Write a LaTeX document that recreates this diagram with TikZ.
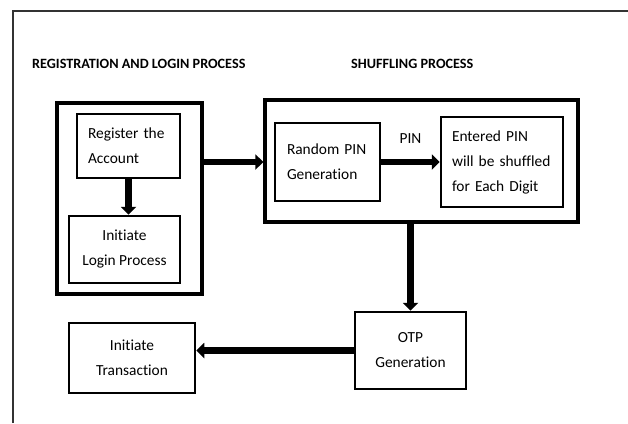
\documentclass[tikz,border=0pt]{standalone}
\usepackage{fontspec}
\setmainfont{Carlito}[Ligatures=NoCommon]
\usetikzlibrary{arrows.meta}

\begin{document}
\begin{tikzpicture}[x=1pt,y=-1pt,
  box/.style={draw,line width=2.5pt,inner sep=0pt,
    font=\fontsize{15.4}{25}\selectfont},
  group/.style={draw,line width=3.2pt,inner sep=0pt},
  title/.style={anchor=west,inner sep=0pt,
    font=\fontsize{14.2}{17}\selectfont\bfseries},
  fat/.style={line width=6.5pt,-{Triangle[length=8pt,width=15pt]}}]
  \useasboundingbox (0,0) rectangle (628,423);

  % page frame
  \draw[line width=1.5pt,black!80] (13,423) -- (13,11) -- (628,11);

  \node[title] (regtitle) at (32,64) {REGISTRATION AND LOGIN PROCESS};
  \node[title] (shuftitle) at (351,64) {SHUFFLING PROCESS};

  % registration / login
  \node[group,minimum width=145pt,minimum height=191pt] (reggroup) at (129.5,198.5) {};
  \node[box,minimum width=103pt,minimum height=64pt,text width=81pt,align=left]
    (reg) at (128.5,146) {Register the\\Account};
  \node[box,minimum width=111pt,minimum height=67pt,align=center]
    (login) at (124.5,249.5) {Initiate\\Login Process};

  % shuffling
  \node[group,minimum width=313pt,minimum height=122pt] (shufgroup) at (421.5,161) {};
  \node[box,minimum width=105pt,minimum height=78pt,text width=81pt,align=left]
    (rand) at (327.5,162) {Random PIN\\Generation};
  \node[box,minimum width=122pt,minimum height=90pt,text width=100pt,align=left]
    (entered) at (502,162) {Entered PIN\\will be shuffled\\for Each Digit};

  % otp / transaction
  \node[box,minimum width=111pt,minimum height=77pt,align=center]
    (otp) at (410.5,350.5) {OTP\\Generation};
  \node[box,minimum width=126pt,minimum height=70pt,align=center]
    (trans) at (132,358) {Initiate\\Transaction};

  % flow
  \draw[fat] (reg.south) -- (reg.south |- login.north);
  \draw[fat] (reggroup.east |- rand) -- (shufgroup.west |- rand);
  \draw[fat] (rand) -- node[above=12pt,font=\fontsize{15.4}{18}\selectfont] (pin) {PIN} (entered);
  \draw[fat] (otp.north |- shufgroup.south) -- (otp.north);
  \draw[fat] (otp.west) -- (trans.east |- otp.west);
\end{tikzpicture}
\end{document}
